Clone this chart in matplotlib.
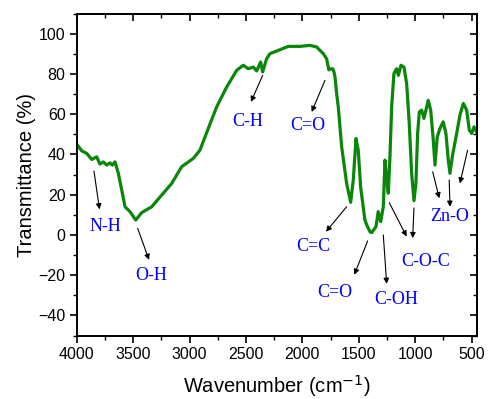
import matplotlib.pyplot as plt
from matplotlib.ticker import MultipleLocator

# FTIR spectrum: wavenumber (cm^-1) and transmittance (%)
wavenumber = [4000, 3956, 3911, 3867, 3823, 3794, 3764, 3734, 3705, 3684,
              3661, 3631, 3601, 3572, 3528, 3477, 3424, 3335, 3247, 3158,
              3070, 2967, 2908, 2863, 2760, 2671, 2582, 2524, 2480, 2435,
              2405, 2370, 2352, 2317, 2287, 2214, 2125, 2021, 1933, 1873,
              1844, 1815, 1785, 1766, 1750, 1732, 1720, 1711, 1696, 1682,
              1652, 1608, 1572, 1549, 1525, 1505, 1484, 1446, 1430, 1401,
              1386, 1348, 1328, 1306, 1283, 1268, 1253, 1239, 1224, 1209,
              1189, 1165, 1150, 1126, 1100, 1076, 1053, 1032, 1011, 994,
              979, 964, 943, 923, 905, 885, 863, 840, 825, 805,
              781, 752, 728, 707, 692, 669, 633, 604, 574, 544,
              521, 500, 479, 456]
transmittance = [45.1, 41.8, 40.5, 37.5, 38.8, 35.2, 36.3, 34.7, 35.8, 34.7,
                 36.3, 30.6, 22.3, 14.0, 11.6, 7.4, 11.1, 14.0, 19.8, 25.6,
                 33.9, 38.0, 42.1, 48.7, 63.6, 73.5, 81.8, 84.3, 82.6, 83.4,
                 81.5, 85.9, 81.0, 87.6, 90.1, 91.7, 93.7, 93.7, 94.2, 93.4,
                 91.7, 90.1, 87.5, 82.0, 82.5, 82.6, 81.0, 78.5, 70.0, 63.6,
                 43.8, 25.6, 16.2, 27.3, 47.9, 42.1, 23.9, 7.4, 5.0, 1.6,
                 1.1, 4.1, 11.6, 6.6, 14.0, 37.2, 27.3, 20.7, 38.8, 63.6,
                 80.2, 82.6, 79.3, 84.3, 83.4, 75.2, 55.4, 30.6, 17.0, 25.6,
                 50.4, 61.1, 62.0, 57.9, 62.0, 66.9, 62.0, 47.1, 34.7, 48.7,
                 52.9, 56.2, 50.4, 37.2, 30.6, 39.7, 50.4, 59.5, 65.3, 62.0,
                 52.1, 50.4, 53.7, 51.2]

# band assignments: label, label position, list of arrows (tail, head)
bands = [
    ("N-H", (3745, 4.2), [((3847, 31.7), (3798, 12.7))]),
    ("O-H", (3343, -20.1), [((3460, 3.3), (3359, -12.4))]),
    ("C-H", (2482, 56.2), [((2352, 79.3), (2456, 66.1))]),
    ("C=O", (1951, 54.5), [((1800, 76.8), (1918, 61.1))]),
    ("C=C", (1899, -5.9), [((1608, 14.0), (1791, 1.6))]),
    ("C=O", (1714, -28.8), [((1422, -3.0), (1540, -19.8))]),
    ("C-OH", (1168, -32.1), [((1283, 0.0), (1253, -24.3))]),
    ("C-O-C", (909, -13.4), [((1230, 16.0), (1076, -0.8)),
                             ((1011, 13.4), (1023, -1.6))]),
    ("Zn-O", (698, 9.1), [((845, 31.4), (787, 18.2)),
                          ((699, 27.3), (692, 14.0)),
                          ((536, 42.1), (604, 25.6))]),
]

plt.rcParams['font.family'] = ['Liberation Sans', 'DejaVu Sans']

fig = plt.figure(figsize=(4.93, 3.99), dpi=100)
ax = fig.add_axes([0.1556, 0.159, 0.8114, 0.807])

ax.plot(wavenumber, transmittance, color='#0a870a', lw=2.3,
        solid_joinstyle='round')

for name, label_pos, arrows in bands:
    for tail, head in arrows:
        ax.annotate('', xy=head, xytext=tail,
                    arrowprops=dict(arrowstyle='-|>', color='black', lw=0.8,
                                    mutation_scale=8, shrinkA=0, shrinkB=0))
    ax.text(label_pos[0], label_pos[1], name, color='blue', fontsize=13,
            family=['Liberation Serif', 'DejaVu Serif'],
            ha='center', va='center')

ax.set_xlim(4000, 455)
ax.set_ylim(-50, 110)

ax.xaxis.set_major_locator(MultipleLocator(500))
ax.xaxis.set_minor_locator(MultipleLocator(250))
ax.yaxis.set_major_locator(MultipleLocator(20))
ax.yaxis.set_minor_locator(MultipleLocator(10))
ax.set_yticks([-40, -20, 0, 20, 40, 60, 80, 100])

ax.tick_params(which='major', direction='out', length=5, width=1.2,
               labelsize=11.5, pad=3)
ax.tick_params(which='minor', direction='out', length=3, width=1.0)

# inward ticks on the top and right frame
top = ax.secondary_xaxis('top')
top.xaxis.set_major_locator(MultipleLocator(500))
top.xaxis.set_minor_locator(MultipleLocator(250))
top.tick_params(which='major', direction='in', length=5, width=1.2,
                labeltop=False)
top.tick_params(which='minor', direction='in', length=3, width=1.0)
right = ax.secondary_yaxis('right')
right.yaxis.set_major_locator(MultipleLocator(20))
right.yaxis.set_minor_locator(MultipleLocator(10))
right.tick_params(which='major', direction='in', length=5, width=1.2,
                  labelright=False)
right.tick_params(which='minor', direction='in', length=3, width=1.0)

for axis in (ax, top, right):
    for spine in axis.spines.values():
        spine.set_linewidth(1.4)

ax.set_xlabel("Wavenumber (cm$^{-1}$)", fontsize=14.5, labelpad=8)
ax.set_ylabel("Transmittance (%)", fontsize=14.5, labelpad=2)

fig.savefig("out.png", dpi=100)
